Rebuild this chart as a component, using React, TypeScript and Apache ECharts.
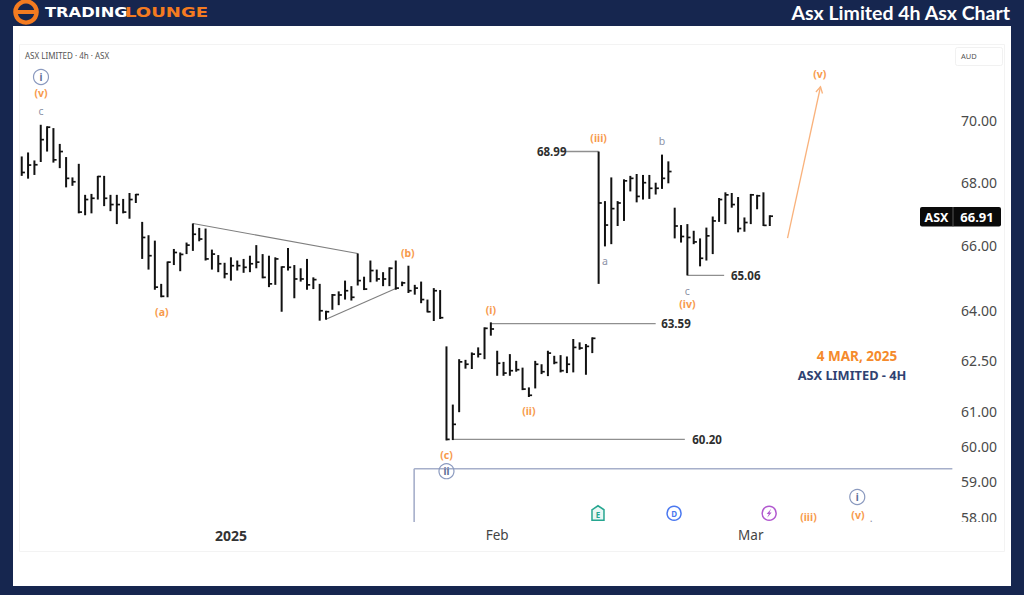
import React, { useEffect, useRef } from "react";
import * as echarts from "echarts";

const highs = [68.83,68.96,68.70,69.87,69.82,69.76,69.24,68.81,68.15,68.59,67.59,67.62,68.20,68.20,67.59,67.59,67.46,67.65,67.62,66.73,66.31,66.14,64.80,65.49,65.88,65.77,66.08,66.68,66.54,66.52,65.86,65.69,65.45,65.62,65.52,65.57,65.67,66.00,65.72,65.67,65.62,65.34,65.91,65.38,65.28,65.57,65.00,
64.80,63.98,64.49,64.57,64.90,64.73,65.74,65.02,65.52,65.24,65.16,65.31,65.52,64.87,65.36,64.77,64.87,64.32,64.67,64.61,62.91,61.20,62.53,62.51,62.73,62.88,63.48,63.63,62.78,62.45,62.68,62.48,62.28,61.70,62.48,62.38,62.78,62.63,62.65,62.61,63.13,63.03,62.98,63.18,
68.99,67.39,68.15,67.39,68.09,68.20,68.26,68.23,68.23,67.98,68.89,68.67,67.18,66.63,66.66,66.45,66.21,66.55,66.90,67.49,67.67,67.65,67.52,66.87,67.62,67.59,67.67,66.94];
const lows = [68.20,68.11,68.23,68.65,68.99,68.63,68.45,67.83,67.88,67.00,66.94,67.00,67.44,67.23,67.07,66.66,67.00,66.83,67.33,65.57,65.24,64.62,64.39,64.39,65.38,65.19,65.72,65.82,66.12,65.52,65.24,65.16,64.97,64.90,65.21,65.14,65.16,65.28,64.97,64.70,64.77,63.95,65.21,64.36,64.87,64.62,64.64,
63.68,63.71,64.01,64.15,64.32,64.29,64.75,64.61,64.85,64.87,64.73,64.73,64.62,64.73,64.52,64.47,64.21,63.93,63.67,63.73,60.17,60.18,60.98,62.25,62.24,62.58,62.53,63.23,62.04,62.04,62.04,62.16,61.62,61.42,61.67,62.09,62.03,62.38,62.14,62.12,62.14,62.81,62.07,62.71,
64.80,65.96,66.03,66.60,66.76,67.70,67.35,67.44,67.46,67.60,67.78,67.96,66.21,66.08,65.06,66.03,65.34,65.52,65.72,66.73,66.66,67.18,66.40,66.42,66.66,67.13,66.60,66.60];
const closes = [68.31,68.55,68.56,69.38,69.79,68.72,68.99,68.12,68.01,67.04,67.44,67.48,68.18,67.48,67.28,67.28,67.04,67.44,67.60,66.24,65.67,64.70,64.42,65.47,65.77,65.71,66.00,66.34,66.19,65.57,65.72,65.42,65.11,65.36,65.36,65.31,65.42,65.47,65.00,64.80,65.57,65.32,65.31,64.95,64.95,64.77,64.93,
63.98,63.95,64.46,64.46,64.59,64.39,64.90,64.64,65.21,64.95,64.95,65.28,64.67,64.83,64.59,64.67,64.32,63.95,64.59,63.77,60.20,60.63,62.45,62.38,62.68,62.68,63.45,63.43,62.41,62.12,62.19,62.22,61.65,61.47,62.38,62.16,62.71,62.43,62.19,62.38,62.88,62.86,62.91,63.15,
67.33,66.63,67.15,67.33,68.04,68.12,67.54,67.98,67.80,67.80,68.12,68.34,66.60,66.27,66.24,66.10,65.59,66.29,66.76,67.44,67.59,67.28,66.52,66.71,67.59,67.56,66.62,66.91];

const priceTicks = [58, 59, 60, 61, 62.5, 64, 66, 68, 70];
const timeTicks = [33, 75, 115];
const timeLabels: Record<number, string> = { 33: "{b|2025}", 75: "Feb", 115: "Mar" };

// [startIndex, startPrice, endIndex, endPrice, colour kind]
const levelLines: [number, number, number, number, string][] = [
  [27, 66.68, 53, 65.74, "trend"],
  [48, 63.72, 59, 64.66, "trend"],
  [85, 68.99, 91, 68.99, "level"],
  [105, 65.06, 110.8, 65.06, "level"],
  [74, 63.59, 100, 63.59, "level"],
  [68, 60.2, 104.6, 60.2, "level"],
  [61.9, 57.89, 61.9, 59.37, "major"],
  [61.9, 59.37, 146.8, 59.37, "major"],
];
const priceLabels: [string, number, number][] = [
  ["68.99", 83.6, 68.99],
  ["65.06", 114.2, 65.06],
  ["63.59", 103.2, 63.59],
  ["60.20", 108.1, 60.2],
];
// [text, index, price, kind]
const waveLabels: [string, number, number, string][] = [
  ["i", 3.04, 71.47, "circle"],
  ["(v)", 3.04, 70.94, "orange"],
  ["c", 3.04, 70.33, "gray"],
  ["(a)", 22.1, 63.94, "orange"],
  ["(b)", 60.9, 65.76, "orange"],
  ["(i)", 74, 64.0, "orange"],
  ["(ii)", 80, 61.0, "orange"],
  ["(c)", 67, 59.75, "orange"],
  ["ii", 67, 59.3, "circle"],
  ["(iii)", 91, 69.44, "orange"],
  ["b", 101, 69.32, "gray"],
  ["a", 92, 65.49, "gray"],
  ["c", 105, 64.58, "gray"],
  ["(iv)", 105, 64.18, "orange"],
  ["(v)", 125.9, 71.58, "orange"],
  ["(iii)", 124.1, 58.02, "orange"],
  ["i", 131.8, 58.58, "circle"],
  ["(v)", 131.9, 58.08, "orange"],
  [".", 134, 58.0, "gray"],
];
const eventIcons: [string, number, number][] = [
  ["E", 90.9, 58.13],
  ["D", 102.9, 58.13],
  ["S", 117.9, 58.13],
];
const projection = [120.8, 66.22, 126, 71.14];

const NAVY = "#16264f";
const ORANGE = "#f79a4c";
const FONT = '"Noto Sans", sans-serif';

const lineColor: Record<string, string> = { trend: "#7f7f7f", level: "#8f8f8f", major: "#a6afca" };

function buildOption(): any {
  return {
    animation: false,
    backgroundColor: NAVY,
    grid: { left: 19, top: 45, width: 934, height: 477 },
    xAxis: {
      type: "value",
      min: -0.43,
      max: 146.9,
      splitLine: { show: false },
      axisLine: { show: false },
      axisTick: { show: false },
      axisLabel: {
        customValues: timeTicks,
        formatter: (v: number) => timeLabels[v] ?? "",
        color: "#444",
        fontFamily: FONT,
        fontSize: 13.5,
        margin: 6,
        rich: { b: { fontWeight: "bold", fontSize: 14, color: "#333", fontFamily: FONT } },
      },
    },
    yAxis: {
      type: "log",
      logBase: Math.E,
      position: "right",
      min: 57.89,
      max: 72.56,
      splitLine: { show: false },
      axisLine: { show: false },
      axisTick: { show: false },
      axisLabel: {
        customValues: priceTicks,
        formatter: (v: number) => v.toFixed(2),
        color: "#4a4a4a",
        fontFamily: FONT,
        fontSize: 14,
        align: "center",
        margin: 26,
        showMinLabel: true,
        showMaxLabel: true,
      },
    },
    series: [
      {
        type: "custom",
        name: "annotations",
        z: 2,
        clip: false,
        data: levelLines.map((l) => [l[0], l[1], l[2], l[3]]),
        encode: { x: [0, 2], y: [1, 3] },
        renderItem: (p: any, api: any) => {
          const a = api.coord([api.value(0), api.value(1)]);
          const b = api.coord([api.value(2), api.value(3)]);
          const kind = levelLines[p.dataIndex][4];
          return {
            type: "line",
            shape: { x1: a[0], y1: a[1], x2: b[0], y2: b[1] },
            style: { stroke: lineColor[kind], lineWidth: kind === "major" ? 1.6 : kind === "level" ? 1.4 : 1.1 },
          };
        },
      },
      {
        type: "custom",
        name: "ASX",
        z: 3,
        data: highs.map((h, i) => [i, h, lows[i], closes[i]]),
        encode: { x: 0, y: [1, 2, 3] },
        renderItem: (_: any, api: any) => {
          const hi = api.coord([api.value(0), api.value(1)]);
          const lo = api.coord([api.value(0), api.value(2)]);
          const cl = api.coord([api.value(0), api.value(3)]);
          return {
            type: "group",
            children: [
              { type: "line", shape: { x1: hi[0], y1: hi[1], x2: lo[0], y2: lo[1] }, style: { stroke: "#111", lineWidth: 2 } },
              { type: "line", shape: { x1: cl[0], y1: cl[1], x2: cl[0] + 3.2, y2: cl[1] }, style: { stroke: "#111", lineWidth: 1.7 } },
            ],
          };
        },
      },
      {
        type: "custom",
        name: "projection",
        z: 3,
        clip: false,
        data: [projection],
        encode: { x: [0, 2], y: [1, 3] },
        renderItem: (_: any, api: any) => {
          const a = api.coord([api.value(0), api.value(1)]);
          const b = api.coord([api.value(2), api.value(3)]);
          const ang = Math.atan2(b[1] - a[1], b[0] - a[0]);
          const head = (d: number) => [b[0] - 7 * Math.cos(ang + d), b[1] - 7 * Math.sin(ang + d)];
          return {
            type: "group",
            children: [
              { type: "line", shape: { x1: a[0], y1: a[1], x2: b[0], y2: b[1] }, style: { stroke: "#f9b27c", lineWidth: 1.3 } },
              { type: "polyline", shape: { points: [head(0.5), b, head(-0.5)] }, style: { stroke: "#f9b27c", fill: "none", lineWidth: 1.3 } },
            ],
          };
        },
      },
      {
        type: "custom",
        name: "prices",
        z: 4,
        clip: false,
        data: priceLabels.map((l) => [l[1], l[2]]),
        encode: { x: 0, y: 1 },
        renderItem: (p: any, api: any) => {
          const c = api.coord([api.value(0), api.value(1)]);
          return {
            type: "text",
            style: {
              x: c[0], y: c[1], text: priceLabels[p.dataIndex][0], fill: "#2e2e2e",
              font: `bold 11.5px ${FONT}`, align: "center", verticalAlign: "middle",
            },
          };
        },
      },
      {
        type: "custom",
        name: "waves",
        z: 4,
        clip: false,
        data: waveLabels.map((l) => [l[1], l[2]]),
        encode: { x: 0, y: 1 },
        renderItem: (p: any, api: any) => {
          const c = api.coord([api.value(0), api.value(1)]);
          const [text, , , kind] = waveLabels[p.dataIndex];
          if (kind === "circle") {
            return {
              type: "group",
              children: [
                { type: "circle", shape: { cx: c[0], cy: c[1], r: 7.5 }, style: { stroke: "#8b9abf", fill: "none", lineWidth: 1.2 } },
                { type: "text", style: { x: c[0], y: c[1], text, fill: "#5c6e98", font: `bold 10px ${FONT}`, align: "center", verticalAlign: "middle" } },
              ],
            };
          }
          return {
            type: "text",
            style: {
              x: c[0], y: c[1], text, fill: kind === "orange" ? ORANGE : "#8c92a6",
              font: `${kind === "orange" ? "bold " : ""}10.5px ${FONT}`, align: "center", verticalAlign: "middle",
            },
          };
        },
      },
      {
        type: "custom",
        name: "events",
        z: 4,
        clip: false,
        data: eventIcons.map((l) => [l[1], l[2]]),
        encode: { x: 0, y: 1 },
        renderItem: (p: any, api: any) => {
          const c = api.coord([api.value(0), api.value(1)]);
          const kind = eventIcons[p.dataIndex][0];
          const x = c[0], y = c[1];
          if (kind === "E") {
            return {
              type: "group",
              children: [
                { type: "polygon", shape: { points: [[x - 6, y - 3.5], [x, y - 7.5], [x + 6, y - 3.5], [x + 6, y + 7], [x - 6, y + 7]] }, style: { stroke: "#26a690", fill: "#e9f7f4", lineWidth: 1.5 } },
                { type: "text", style: { x, y: y + 1, text: "E", fill: "#26a690", font: `bold 8px ${FONT}`, align: "center", verticalAlign: "middle" } },
              ],
            };
          }
          const col = kind === "D" ? "#4a78f0" : "#b158cf";
          const inner = kind === "D"
            ? { type: "text", style: { x, y, text: "D", fill: col, font: `bold 8px ${FONT}`, align: "center", verticalAlign: "middle" } }
            : { type: "polygon", shape: { points: [[x + 2, y - 4.5], [x - 2.5, y + 0.8], [x - 0.3, y + 0.8], [x - 2, y + 4.5], [x + 2.5, y - 0.8], [x + 0.3, y - 0.8]] }, style: { fill: col } };
          return {
            type: "group",
            children: [
              { type: "circle", shape: { cx: x, cy: y, r: 7 }, style: { stroke: col, fill: "#fff", lineWidth: 1.5 } },
              inner,
            ],
          };
        },
      },
    ],
    graphic: [
      { type: "rect", z: -10, shape: { x: 13, y: 26, width: 998, height: 560 }, style: { fill: "#fff" } },
      { type: "rect", z: -9, shape: { x: 19.5, y: 44.5, width: 985, height: 507 }, style: { fill: "#fff", stroke: "#f3f3f3", lineWidth: 1 } },
      { type: "rect", z: -8, shape: { x: 955.5, y: 47.5, width: 47, height: 18, r: 2 }, style: { fill: "#fff", stroke: "#f1f1f1" } },
      { type: "text", z: 5, x: 961, y: 56, style: { text: "AUD", fill: "#555", font: `7.5px ${FONT}`, verticalAlign: "middle" } },
      { type: "text", z: 5, x: 25, y: 55, style: { text: "ASX LIMITED · 4h · ASX", fill: "#555", font: `8px ${FONT}`, verticalAlign: "middle" } },
      // header
      { type: "circle", z: 5, shape: { cx: 26, cy: 12, r: 12.8 }, style: { fill: "#f47b20" } },
      { type: "circle", z: 5, shape: { cx: 26, cy: 12, r: 8.4 }, style: { fill: NAVY } },
      { type: "rect", z: 5, shape: { x: 17, y: 10, width: 18, height: 4 }, style: { fill: "#f47b20" } },
      { type: "text", z: 5, x: 45, y: 12.5, scaleX: 1.16, style: { text: "TRADING", fill: "#fff", font: "bold 14px 'DejaVu Sans'", verticalAlign: "middle" } },
      { type: "text", z: 5, x: 125, y: 12.5, scaleX: 1.29, style: { text: "LOUNGE", fill: "#f47b20", font: "bold 14px 'DejaVu Sans'", verticalAlign: "middle" } },
      { type: "text", z: 5, x: 1010, y: 12.5, style: { text: "Asx Limited 4h Asx Chart", fill: "#fff", font: "bold 19.5px Lato", align: "right", verticalAlign: "middle" } },
      // date block
      { type: "text", z: 5, x: 857, y: 356, style: { text: "4 MAR, 2025", fill: "#f58a2c", font: `bold 13.5px ${FONT}`, align: "center", verticalAlign: "middle" } },
      { type: "text", z: 5, x: 852, y: 375, style: { text: "ASX LIMITED - 4H", fill: "#2f4272", font: `bold 12.8px ${FONT}`, align: "center", verticalAlign: "middle" } },
      // last price tag
      { type: "rect", z: 20, shape: { x: 920, y: 207, width: 81, height: 19.5, r: 2 }, style: { fill: "#0a0a0a" } },
      { type: "line", z: 21, shape: { x1: 953, y1: 207, x2: 953, y2: 226.5 }, style: { stroke: "#555", lineWidth: 1 } },
      { type: "text", z: 21, x: 936.5, y: 217, style: { text: "ASX", fill: "#fff", font: `bold 12.5px ${FONT}`, align: "center", verticalAlign: "middle" } },
      { type: "text", z: 21, x: 977, y: 217, style: { text: "66.91", fill: "#fff", font: `bold 13px ${FONT}`, align: "center", verticalAlign: "middle" } },
      // clip of the lowest axis label
      { type: "rect", z: 20, shape: { x: 955, y: 522, width: 48, height: 9 }, style: { fill: "#fff" } },
    ],
  };
}

export default function App() {
  const ref = useRef<HTMLDivElement>(null);
  useEffect(() => {
    const chart = echarts.init(ref.current!, null, { renderer: "svg" });
    chart.setOption(buildOption());
    return () => chart.dispose();
  }, []);
  return <div ref={ref} style={{ position: "absolute", left: 0, top: 0, width: 1024, height: 595 }} />;
}
